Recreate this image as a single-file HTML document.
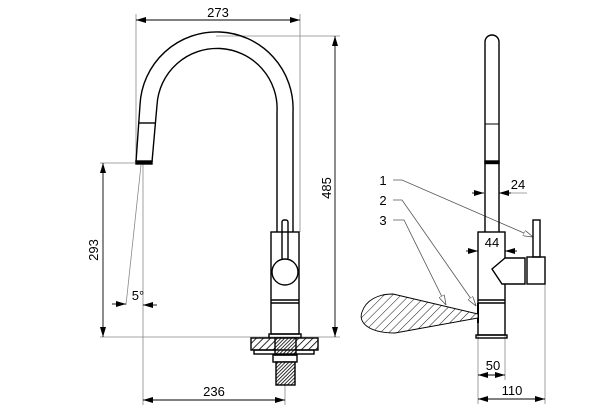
<!DOCTYPE html>
<html><head><style>body{margin:0;background:#fff}svg{display:block}</style></head><body>
<svg width="604" height="413" viewBox="0 0 604 413" xmlns="http://www.w3.org/2000/svg" font-family="Liberation Sans, sans-serif">
<defs>
<pattern id="h" width="5" height="5" patternUnits="userSpaceOnUse" patternTransform="rotate(45)"><rect width="5" height="5" fill="#fff"/><line x1="0" y1="0" x2="0" y2="5" stroke="#000" stroke-width="1.6"/></pattern>
<pattern id="hd" width="2.5" height="2.5" patternUnits="userSpaceOnUse" patternTransform="rotate(45)"><rect width="2.5" height="2.5" fill="#fff"/><line x1="0" y1="0" x2="0" y2="2.5" stroke="#000" stroke-width="1.6"/></pattern>
<pattern id="ht" width="6" height="6" patternUnits="userSpaceOnUse" patternTransform="rotate(45)"><rect width="6" height="6" fill="#fff"/><line x1="0" y1="0" x2="0" y2="6" stroke="#000" stroke-width="0.9"/></pattern>
<marker id="a" viewBox="0 0 10 6" refX="10" refY="3" markerWidth="10" markerHeight="6" orient="auto-start-reverse" markerUnits="userSpaceOnUse"><path d="M0,0L10,3L0,6z" fill="#000"/></marker>
<marker id="o" viewBox="0 0 10 6" refX="10" refY="3" markerWidth="10" markerHeight="6" orient="auto" markerUnits="userSpaceOnUse"><path d="M0,0L10,3L0,6z" fill="#fff" stroke="#555" stroke-width="0.8"/></marker>
</defs>
<g stroke="#888" stroke-width="0.8" fill="none">
<line x1="136" y1="14" x2="136" y2="162"/><line x1="300" y1="14" x2="300" y2="232"/>
<line x1="216" y1="36" x2="340" y2="36"/><line x1="100" y1="337" x2="340" y2="337"/>
<line x1="100" y1="163" x2="136" y2="163"/>
<line x1="143" y1="163" x2="143" y2="405"/><line x1="285" y1="385" x2="285" y2="405"/>
<line x1="141" y1="165" x2="126" y2="305"/>
<line x1="499" y1="193" x2="527" y2="193"/>
<line x1="505" y1="284" x2="505" y2="380"/><line x1="478" y1="335" x2="478" y2="404"/><line x1="545" y1="284" x2="545" y2="404"/>
</g>
<g stroke="#555" stroke-width="0.8" fill="none">
<polyline points="393,180 402,180 533,237" marker-end="url(#o)"/>
<polyline points="393,200 402,200 476,306" marker-end="url(#o)"/>
<polyline points="393,220 404,220 446,305" marker-end="url(#o)"/>
</g>
<g stroke="#000" stroke-width="0.9" fill="none">
<line x1="136" y1="20" x2="300" y2="20" marker-start="url(#a)" marker-end="url(#a)"/>
<line x1="335" y1="36" x2="335" y2="337" marker-start="url(#a)" marker-end="url(#a)"/>
<line x1="103" y1="163" x2="103" y2="337" marker-start="url(#a)" marker-end="url(#a)"/>
<line x1="143" y1="400" x2="285" y2="400" marker-start="url(#a)" marker-end="url(#a)"/>
<line x1="112" y1="304" x2="126" y2="304" marker-end="url(#a)"/><line x1="157" y1="305" x2="143" y2="305" marker-end="url(#a)"/>
<line x1="472" y1="193" x2="484" y2="193" marker-end="url(#a)"/><line x1="511" y1="193" x2="499" y2="193" marker-end="url(#a)"/>
<line x1="466" y1="251" x2="478" y2="251" marker-end="url(#a)"/><line x1="517" y1="251" x2="505" y2="251" marker-end="url(#a)"/>
<line x1="478" y1="375" x2="505" y2="375" marker-start="url(#a)" marker-end="url(#a)"/>
<line x1="478" y1="399" x2="545" y2="399" marker-start="url(#a)" marker-end="url(#a)"/>
</g>
<g stroke="#000" stroke-width="1.4" fill="none">
<path d="M136,162 L140,105 A76,76 0 0 1 293,112 L293,232"/>
<path d="M152,162 L157,105 A60,60 0 0 1 277,112 L277,232"/>
<line x1="139" y1="123" x2="155" y2="123"/>
<rect x="136" y="161" width="16" height="3" fill="#000"/>
<rect x="271" y="232" width="28" height="102"/>
<line x1="271" y1="300" x2="299" y2="300"/><line x1="271" y1="303" x2="299" y2="303"/>
<rect x="282" y="220" width="6" height="40" rx="2"/>
<circle cx="285" cy="272" r="13" fill="#fff"/>
<rect x="269" y="334" width="32" height="4"/>
<rect x="251" y="338" width="67" height="12" fill="url(#h)"/>
<rect x="275" y="338" width="21" height="17" fill="url(#hd)"/>
<rect x="254" y="350" width="60" height="4"/>
<rect x="273" y="355" width="24" height="7"/>
<rect x="276" y="362" width="19" height="23" fill="url(#hd)"/>
<path d="M485,232 L485,42 A7,7 0 0 1 499,42 L499,232"/>
<line x1="485" y1="124" x2="499" y2="124" stroke-width="1"/>
<rect x="485" y="161" width="14" height="2.5" fill="#000"/>
<rect x="478" y="232" width="27" height="103"/>
<line x1="478" y1="300" x2="505" y2="300"/><line x1="478" y1="303" x2="505" y2="303"/>
<rect x="476" y="335" width="31" height="3"/>
<path d="M505,258 L492,269 L502,284 L525,284 L525,258 Z" fill="#fff"/>
<line x1="505" y1="260" x2="505" y2="282" stroke="#fff" stroke-width="1.4"/>
<rect x="527" y="257" width="18" height="27"/>
<rect x="533" y="220" width="7" height="37"/>
<line x1="478" y1="303" x2="478" y2="323" stroke-width="2"/>
<path d="M478,314 L478,318 L395,333 C368,333 358,322 362,312 C366,300 378,294 393,294 Z" fill="url(#ht)" stroke-width="0.9"/>
</g>
<g font-size="13" fill="#000" text-anchor="middle">
<text x="218" y="17">273</text>
<text x="214" y="396">236</text>
<text x="138" y="300">5°</text>
<text transform="translate(331,188) rotate(-90)" text-anchor="middle">485</text>
<text transform="translate(98,250) rotate(-90)" text-anchor="middle">293</text>
<text x="518" y="189">24</text>
<text x="492" y="247">44</text>
<text x="493" y="370">50</text>
<text x="512" y="395">110</text>
<text x="383" y="185">1</text>
<text x="383" y="205">2</text>
<text x="383" y="225">3</text>
</g>
</svg>
</body></html>
